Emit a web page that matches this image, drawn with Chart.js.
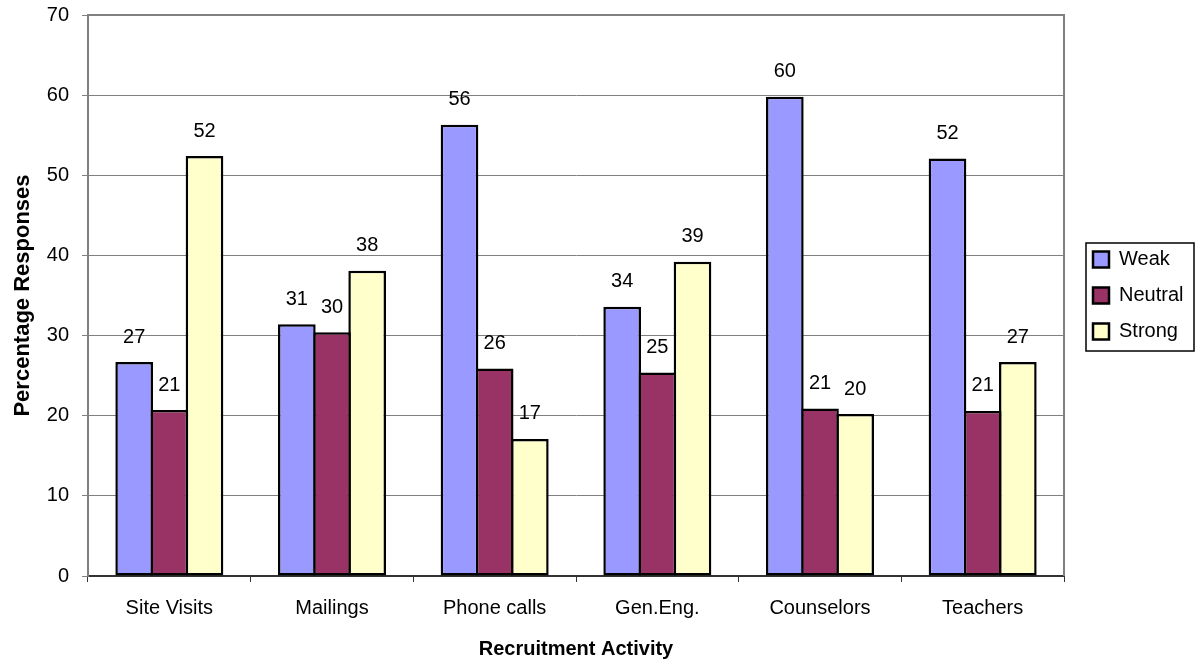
<!DOCTYPE html>
<html>
<head>
<meta charset="utf-8">
<script src="https://cdn.jsdelivr.net/npm/chart.js@4.4.1/dist/chart.umd.min.js"></script>
<style>
  html, body { margin: 0; padding: 0; background: #ffffff; }
  #wrap { width: 1196px; height: 662px; position: relative; }
</style>
</head>
<body>
<div id="wrap"><canvas id="c"></canvas></div>
<script>
// Survey results: share of responses per recruitment activity
const categories = ['Site Visits', 'Mailings', 'Phone calls', 'Gen.Eng.', 'Counselors', 'Teachers'];
const weak    = [26.7, 31.4, 56.3, 33.6, 59.8, 52.1];
const neutral = [20.7, 30.4, 25.9, 25.4, 20.9, 20.6];
const strong  = [52.4, 38.1, 17.1, 39.2, 20.2, 26.7];
const seriesNames = ['Weak', 'Neutral', 'Strong'];
const yMin = 0, yMax = 70, yStep = 10;

const FONT = "'Liberation Sans', Arial, sans-serif";
const BAR_BORDER = 2.5;

// Fixed outer box sizes so the plot area lands where it should
const Y_AXIS_WIDTH = 88;
const X_AXIS_HEIGHT = 86;
const LEGEND_WIDTH = 132;
const LEGEND_SHIFT = 13;

// Value labels above each bar
const valueLabels = {
  id: 'valueLabels',
  afterDatasetsDraw(chart) {
    const ctx = chart.ctx;
    ctx.save();
    ctx.font = '20px ' + FONT;
    ctx.fillStyle = '#000';
    ctx.textAlign = 'center';
    ctx.textBaseline = 'middle';
    chart.data.datasets.forEach((ds, di) => {
      const meta = chart.getDatasetMeta(di);
      meta.data.forEach((el, i) => {
        ctx.fillText(String(Math.round(ds.data[i])), el.x, el.y - 25);
      });
    });
    ctx.restore();
  }
};

// Plot frame (top and right edges) and the legend's box
const frames = {
  id: 'frames',
  beforeLayout(chart) {
    const lg = chart.legend;
    if (lg && !lg._fixedFit) {
      const fit = lg.fit;
      lg.fit = function () { fit.call(this); this.width = LEGEND_WIDTH; };
      lg._fixedFit = true;
    }
  },
  afterLayout(chart) {
    const lg = chart.legend;
    const a = chart.chartArea;
    lg.left += LEGEND_SHIFT;
    lg.right += LEGEND_SHIFT;
    lg.top = a.top;
    lg.bottom = a.bottom;
    lg.height = a.bottom - a.top;
  },
  afterDraw(chart) {
    const ctx = chart.ctx;
    const a = chart.chartArea;
    ctx.save();
    ctx.strokeStyle = '#808080';
    ctx.lineWidth = 2;
    ctx.beginPath();
    ctx.moveTo(a.left, a.top);
    ctx.lineTo(a.right, a.top);
    ctx.lineTo(a.right, a.bottom);
    ctx.stroke();

    const boxes = chart.legend.legendHitBoxes;
    if (boxes && boxes.length) {
      const first = boxes[0], last = boxes[boxes.length - 1];
      const l = first.left - 7;
      const t = first.top - 6.5;
      const b = last.top + last.height + 9.5;
      ctx.strokeStyle = '#000';
      ctx.lineWidth = 1.5;
      ctx.strokeRect(l, t, 1194 - l, b - t);
    }
    ctx.restore();
  }
};

// Bars in a group overlap by one border width so neighbours share a single edge
const catWidthGuess = (1196 - Y_AXIS_WIDTH - LEGEND_WIDTH) / categories.length;
const groupWidth = 108;
const slot = (groupWidth - BAR_BORDER) / 3;
const categoryPct = (3 * slot) / catWidthGuess;
const barPct = 1 + BAR_BORDER / slot;

const colors = ['#9999FF', '#993366', '#FFFFCC'];
const values = [weak, neutral, strong];

new Chart(document.getElementById('c'), {
  type: 'bar',
  data: {
    labels: categories,
    datasets: seriesNames.map((name, k) => ({
      label: name,
      data: values[k],
      backgroundColor: colors[k],
      borderColor: '#000000',
      borderWidth: BAR_BORDER,
      borderSkipped: false,
      categoryPercentage: categoryPct,
      barPercentage: barPct
    }))
  },
  options: {
    responsive: true,
    maintainAspectRatio: false,
    animation: false,
    devicePixelRatio: 1,
    layout: { padding: { top: 15, right: 0, left: 0, bottom: 0 } },
    plugins: {
      tooltip: { enabled: false },
      legend: {
        position: 'right',
        align: 'center',
        labels: {
          font: { family: FONT, size: 20 },
          color: '#000',
          boxWidth: 16,
          boxHeight: 16,
          padding: 16
        }
      }
    },
    scales: {
      x: {
        offset: true,
        afterFit(s) { s.height = X_AXIS_HEIGHT; s.paddingLeft = 0; s.paddingRight = 0; },
        grid: { offset: true, drawOnChartArea: false, tickLength: 6, color: '#333', lineWidth: 1 },
        border: { color: '#333', width: 2 },
        ticks: { font: { family: FONT, size: 20 }, color: '#000', padding: 14, maxRotation: 0 },
        title: {
          display: true,
          text: 'Recruitment Activity',
          font: { family: FONT, size: 20, weight: 'bold' },
          color: '#000',
          padding: { top: 1, bottom: 1 }
        }
      },
      y: {
        min: yMin,
        max: yMax,
        afterFit(s) { s.width = Y_AXIS_WIDTH; s.paddingTop = 0; s.paddingBottom = 0; },
        grid: { color: '#808080', lineWidth: 1, tickLength: 6 },
        border: { color: '#808080', width: 2 },
        ticks: { stepSize: yStep, font: { family: FONT, size: 20 }, color: '#000', padding: 13 },
        title: {
          display: true,
          text: 'Percentage Responses',
          font: { family: FONT, size: 22, weight: 'bold' },
          color: '#000',
          padding: { top: 10, bottom: 0 }
        }
      }
    }
  },
  plugins: [valueLabels, frames]
});
</script>
</body>
</html>
